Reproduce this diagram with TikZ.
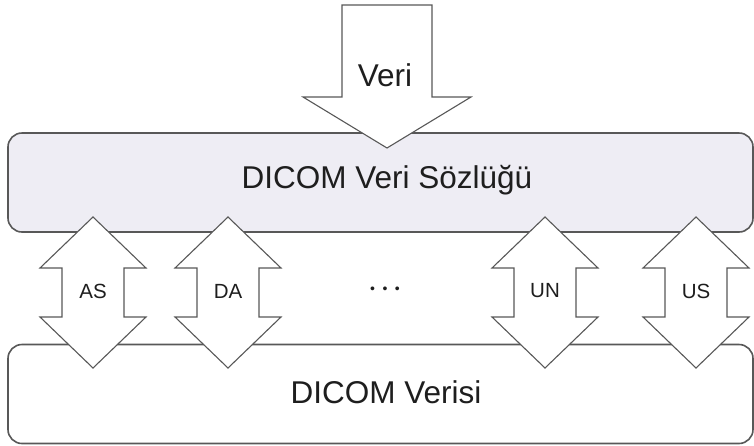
\documentclass[tikz,border=0pt]{standalone}
\usepackage{fontspec}
\setmainfont{Liberation Sans}
\usetikzlibrary{positioning}
\definecolor{edgegrey}{RGB}{88,88,88}
\definecolor{dictfill}{RGB}{238,237,244}
\definecolor{inkgrey}{RGB}{30,30,30}

\begin{document}
\begin{tikzpicture}[
  x=1pt, y=-1pt,
  layer/.style={rectangle, rounded corners=14pt, draw=edgegrey,
                line width=1.6pt, minimum width=745pt, minimum height=99pt},
  blockarrow/.style={draw=edgegrey, fill=white, line width=1.1pt,
                line join=miter},
  bigtxt/.style={font=\fontsize{31.5}{36}\selectfont, text=inkgrey},
  tagtxt/.style={font=\fontsize{20.5}{24}\selectfont, text=inkgrey}
]
\useasboundingbox (0,0) rectangle (754,445);

% ── Two layers ──
\node[layer, fill=dictfill] (dict) at (380.5,182.5) {};
\node[layer, fill=white]    (data) at (380.5,394)   {};

% ── Incoming data arrow ──
\draw[blockarrow] (342,5) -- (432,5) -- (432,97) -- (471,97)
  -- (387,148) -- (303,97) -- (342,97) -- cycle;
\node[bigtxt] (veri) at (385,75) {Veri};

\node[bigtxt] (dicttxt) at (387,180) {DICOM Veri Sözlüğü};
\node[bigtxt] (datatxt) at (386,392) {DICOM Verisi};

% ── Two-way arrows between the layers ──
\foreach \cx/\tag in {93/AS, 228/DA, 545/UN, 696/US} {
  \draw[blockarrow] (\cx,217) -- (\cx+53,268) -- (\cx+31,268)
    -- (\cx+31,317) -- (\cx+53,317) -- (\cx,368) -- (\cx-53,317)
    -- (\cx-31,317) -- (\cx-31,268) -- (\cx-53,268) -- cycle;
  \node[tagtxt] (\tag) at (\cx,291) {\tag};
}
\node[font=\fontsize{14}{16}\selectfont, text=inkgrey, anchor=base]
  (dots) at (385,293) {•\hspace{7.5pt}•\hspace{7.5pt}•};

\end{tikzpicture}
\end{document}
